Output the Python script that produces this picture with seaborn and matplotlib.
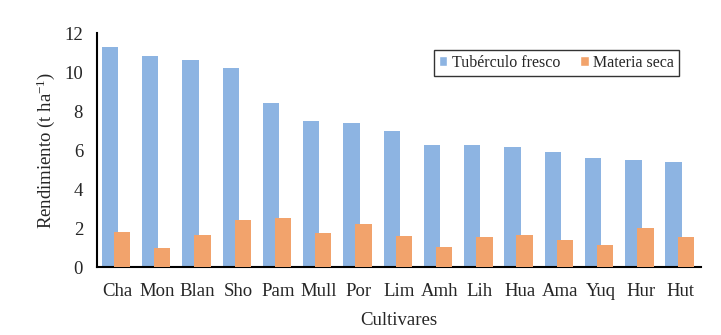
import matplotlib
matplotlib.use("Agg")
import matplotlib.pyplot as plt
import seaborn as sns
import pandas as pd
from matplotlib.patches import Patch

cultivars = ["Cha", "Mon", "Blan", "Sho", "Pam", "Mull", "Por", "Lim",
             "Amh", "Lih", "Hua", "Ama", "Yuq", "Hur", "Hut"]
fresh = [11.31, 10.84, 10.63, 10.22, 8.43, 7.50, 7.40, 6.99,
         6.27, 6.27, 6.17, 5.91, 5.61, 5.50, 5.40]
dry = [1.83, 1.01, 1.67, 2.44, 2.54, 1.77, 2.24, 1.62,
       1.06, 1.57, 1.66, 1.40, 1.14, 2.02, 1.57]
series_names = ["Tubérculo fresco", "Materia seca"]
colors = ["#8DB4E2", "#F2A36C"]
yticks = [0, 2, 4, 6, 8, 10, 12]

sns.set_style("white")
plt.rcParams["font.family"] = ["Liberation Serif", "DejaVu Serif"]
plt.rcParams["mathtext.fontset"] = "custom"
plt.rcParams["mathtext.rm"] = "Liberation Serif"
plt.rcParams["mathtext.it"] = "Liberation Serif:italic"
plt.rcParams["mathtext.default"] = "rm"

fig = plt.figure(figsize=(7.21, 3.35), dpi=100)
ax = fig.add_axes([97/721, 1 - 267.3/335, (701-97)/721, (267.3-33.3)/335])

df_f = pd.DataFrame({"cultivar": cultivars, "value": fresh})
df_d = pd.DataFrame({"cultivar": cultivars, "value": dry})

bw = 0.405
sns.barplot(data=df_f, x="cultivar", y="value", color=colors[0], width=bw,
            ax=ax, saturation=1, linewidth=0, zorder=2)
n_f = len(ax.patches)
sns.barplot(data=df_d, x="cultivar", y="value", color=colors[1], width=bw,
            ax=ax, saturation=1, linewidth=0, zorder=3)
for i, p in enumerate(ax.patches):
    p.set_linewidth(0)
    if i < n_f:
        p.set_x(p.get_x() - 0.18)
    else:
        p.set_x(p.get_x() + 0.12)
        p.set_zorder(3)

ax.set_xlim(-0.5, len(cultivars) - 0.5)
ax.set_ylim(0, 12)
ax.set_yticks(yticks)
ax.set_yticklabels([str(t) for t in yticks], fontsize=13.5)

ax.set_xticks([i for i in range(len(cultivars))])
ax.set_xticklabels(cultivars, fontsize=13.5)
ax.tick_params(axis="x", length=0, pad=11)
ax.set_xticks([i - 0.5 for i in range(len(cultivars) + 1)], minor=True)
ax.tick_params(axis="x", which="minor", length=5, width=1.5, color="black", direction="out")
ax.tick_params(axis="y", length=5, width=1.5, color="black", direction="out", pad=5)

for s in ["top", "right"]:
    ax.spines[s].set_visible(False)
for s in ["left", "bottom"]:
    ax.spines[s].set_color("black")
    ax.spines[s].set_linewidth(1.5)

ax.set_xlabel("Cultivares", fontsize=13.5, labelpad=9)
ax.set_ylabel("Rendimiento (t ha$^{-1}$)", fontsize=13.5, labelpad=5)

handles = [Patch(facecolor=colors[0]), Patch(facecolor=colors[1])]
leg = ax.legend(handles, series_names, loc="upper right",
                bbox_to_anchor=(679/721, 1 - 50/335), bbox_transform=fig.transFigure,
                fontsize=11.5, frameon=True, fancybox=False, ncol=2,
                handlelength=0.55, handleheight=0.55, handletextpad=0.3,
                columnspacing=1.2, borderpad=0.3, borderaxespad=0)
leg.get_frame().set_edgecolor("black")
leg.get_frame().set_linewidth(1.0)

fig.savefig("out.png", dpi=100)
